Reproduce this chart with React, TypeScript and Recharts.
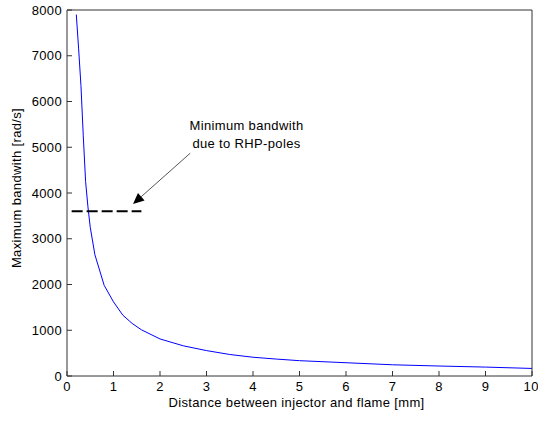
import React from 'react';
import { LineChart, Line, XAxis, YAxis, ReferenceLine, ReferenceDot } from 'recharts';

// injector–flame distance [mm] and the resulting maximum bandwidth [rad/s]
const distance = [0.2, 0.25, 0.3, 0.35, 0.4, 0.45, 0.5, 0.6, 0.8, 1.0, 1.2, 1.4, 1.6, 2.0, 2.5, 3.0, 3.5, 4.0, 4.5, 5.0, 6.0, 7.0, 8.0, 9.0, 10.0];
const bandwidth = [7900, 7150, 6350, 5250, 4250, 3700, 3250, 2650, 1980, 1620, 1330, 1150, 1010, 810, 660, 555, 470, 410, 370, 335, 290, 245, 218, 195, 165];

const xTicks = [0, 1, 2, 3, 4, 5, 6, 7, 8, 9, 10];
const yTicks = [0, 1000, 2000, 3000, 4000, 5000, 6000, 7000, 8000];

// minimum bandwidth imposed by the RHP poles (dashed segment)
const rhpLimit = 3600;
const rhpSpan = [0.1, 1.6];

// annotation text and arrow (data coordinates)
const noteLines = ['Minimum bandwith', 'due to RHP-poles'];
const notePos = { x: 3.86, y: 5300 };
const arrowFrom = { x: 2.65, y: 4870 };
const arrowTo = { x: 1.42, y: 3760 };

const data = distance.map((x, i) => ({ x, y: bandwidth[i] }));

const FONT = '"Liberation Sans", Arial, sans-serif';
const AXIS = '#333';
const tickStyle = { fontSize: 13, fill: '#000', fontFamily: FONT, letterSpacing: 0.35 };

const Arrow = (props: any) => {
  const { x1, y1, x2, y2 } = props;
  const ang = Math.atan2(y2 - y1, x2 - x1);
  const len = 11;
  const half = 5;
  const bx = x2 - len * Math.cos(ang);
  const by = y2 - len * Math.sin(ang);
  const nx = -Math.sin(ang);
  const ny = Math.cos(ang);
  const pts = `${x2},${y2} ${bx + nx * half},${by + ny * half} ${bx - nx * half},${by - ny * half}`;
  return (
    <g>
      <line x1={x1} y1={y1} x2={bx} y2={by} stroke="#555" strokeWidth={1} />
      <polygon points={pts} fill="#000" />
    </g>
  );
};

const Note = (props: any) => {
  const { cx, cy } = props;
  return (
    <text x={cx} y={cy} textAnchor="middle" fontSize={13} fontFamily={FONT} letterSpacing={0.35} fill="#000">
      {noteLines.map((t, i) => (
        <tspan key={i} x={cx} dy={i === 0 ? -4 : 18}>{t}</tspan>
      ))}
    </text>
  );
};

const XTitle = (props: any) => {
  const { viewBox } = props;
  return (
    <text x={viewBox.x + viewBox.width / 2 - 3} y={407} textAnchor="middle" fontSize={13} fontFamily={FONT} letterSpacing={0.35} fill="#000">
      Distance between injector and flame [mm]
    </text>
  );
};

const YTitle = (props: any) => {
  const { viewBox } = props;
  const cx = 21;
  const cy = viewBox.y + viewBox.height / 2 - 5;
  return (
    <text x={cx} y={cy} transform={`rotate(-90 ${cx} ${cy})`} textAnchor="middle" fontSize={13} fontFamily={FONT} letterSpacing={0.35} fill="#000">
      Maximum bandwith [rad/s]
    </text>
  );
};

export default function App() {
  return (
    <div style={{ position: 'absolute', left: 0, top: 0, background: '#fff' }}>
      <LineChart width={538} height={421} data={data} margin={{ top: 9, right: 5, bottom: 0, left: 0 }}>
        <XAxis
          dataKey="x"
          type="number"
          domain={[0, 10]}
          ticks={xTicks}
          height={45}
          tickSize={-5}
          tickMargin={11}
          tick={tickStyle}
          axisLine={{ stroke: AXIS }}
          tickLine={{ stroke: AXIS }}
          label={<XTitle />}
        />
        {/* box: top and right axes with inward ticks only */}
        <XAxis xAxisId="top" dataKey="x" orientation="top" type="number" domain={[0, 10]} ticks={xTicks} height={1} tick={false} tickSize={-5} axisLine={{ stroke: AXIS }} tickLine={{ stroke: AXIS }} />
        <YAxis
          type="number"
          domain={[0, 8000]}
          ticks={yTicks}
          width={67}
          tickSize={-5}
          tickMargin={10}
          tick={tickStyle}
          axisLine={{ stroke: AXIS }}
          tickLine={{ stroke: AXIS }}
          label={<YTitle />}
        />
        <YAxis yAxisId="right" orientation="right" type="number" domain={[0, 8000]} ticks={yTicks} width={1} tick={false} tickSize={-5} axisLine={{ stroke: AXIS }} tickLine={{ stroke: AXIS }} />
        <Line dataKey="y" type="linear" stroke="#0000ff" strokeWidth={1} dot={false} activeDot={false} isAnimationActive={false} />
        <Line xAxisId="top" yAxisId="right" dataKey="y" type="linear" stroke="none" dot={false} activeDot={false} isAnimationActive={false} />
        <ReferenceLine
          segment={[{ x: rhpSpan[0], y: rhpLimit }, { x: rhpSpan[1], y: rhpLimit }]}
          stroke="#000"
          strokeWidth={2}
          strokeDasharray="11 4"
        />
        <ReferenceLine segment={[arrowFrom, arrowTo]} shape={<Arrow />} />
        <ReferenceDot x={notePos.x} y={notePos.y} r={0} shape={<Note />} />
      </LineChart>
    </div>
  );
}
